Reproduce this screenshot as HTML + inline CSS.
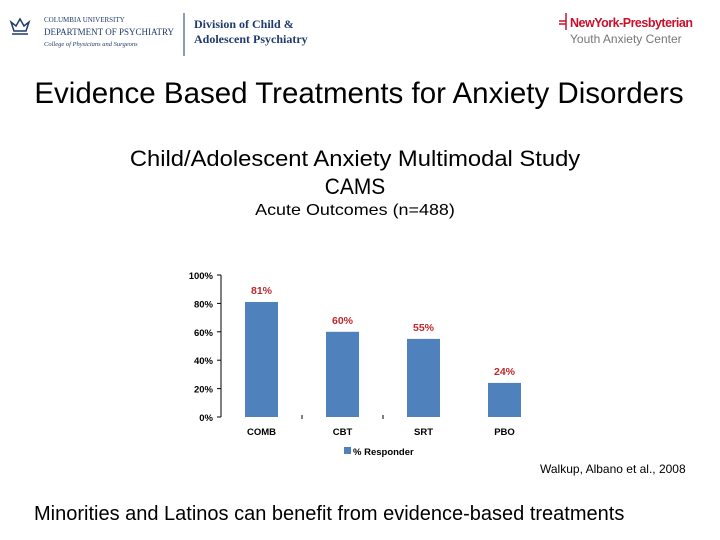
<!DOCTYPE html>
<html><head><meta charset="utf-8">
<style>
body{margin:0;background:#fff;}
#root{position:relative;width:720px;height:540px;overflow:hidden;font-family:"Liberation Sans",sans-serif;}
.t{position:absolute;white-space:nowrap;}
</style></head>
<body>
<div id="root">
<svg width="720" height="60" style="position:absolute;left:0;top:0">
  <g fill="none" stroke="#1f3a6e" stroke-width="1.5">
    <path d="M11 22 L14 31 L26 31 L29 22 L24 26 L20 19 L16 26 Z"/>
    <line x1="12" y1="34" x2="28" y2="34"/>
  </g>
  <text x="44" y="22" font-family="Liberation Serif,serif" font-size="7" fill="#1f3a6e">COLUMBIA UNIVERSITY</text>
  <text x="44" y="35" font-family="Liberation Serif,serif" font-size="9" fill="#1f3a6e">DEPARTMENT OF PSYCHIATRY</text>
  <text x="44" y="46" font-family="Liberation Serif,serif" font-size="6.5" font-style="italic" fill="#1f3a6e">College of Physicians and Surgeons</text>
  <line x1="184" y1="13" x2="184" y2="56" stroke="#1f3a6e" stroke-width="1"/>
  <text x="194" y="28" font-family="Liberation Serif,serif" font-size="12" font-weight="bold" fill="#1f3a6e">Division of Child &amp;</text>
  <text x="194" y="43" font-family="Liberation Serif,serif" font-size="12" font-weight="bold" fill="#1f3a6e">Adolescent Psychiatry</text>
  <path d="M566 13 V21 H559 M566 21 V30 M559 24 H566" stroke="#c8102e" stroke-width="1.5" fill="none"/>
  <text x="570" y="27" font-size="12.5" font-weight="bold" fill="#c8102e" letter-spacing="-0.5">NewYork-Presbyterian</text>
  <text x="570" y="43" font-size="12" fill="#777">Youth Anxiety Center</text>
</svg>
<div class="t" style="left:0;width:718px;text-align:center;top:77px;font-size:29.5px;color:#000;">Evidence Based Treatments for Anxiety Disorders</div>
<div class="t" style="left:0;width:710px;text-align:center;top:146px;font-size:22px;transform:scaleX(1.08);transform-origin:355px 0;">Child/Adolescent Anxiety Multimodal Study</div>
<div class="t" style="left:0;width:710px;text-align:center;top:174px;font-size:22px;transform:scaleX(0.95);transform-origin:355px 0;">CAMS</div>
<div class="t" style="left:0;width:710px;text-align:center;top:202px;font-size:16px;transform:scaleX(1.12);transform-origin:355px 0;">Acute Outcomes (n=488)</div>
<svg id="chart" width="720" height="540" style="position:absolute;left:0;top:0"></svg>
<div class="t" style="left:540px;top:462px;font-size:12px;">Walkup, Albano et al., 2008</div>
<div class="t" style="left:34px;top:503px;font-size:20px;">Minorities and Latinos can benefit from evidence-based treatments</div>
</div>
<script>
const categories=["COMB","CBT","SRT","PBO"];
const responderValues=[81,60,55,24];
const yTicks=[0,20,40,60,80,100];
const yTickLabels=["0%","20%","40%","60%","80%","100%"];

const NS="http://www.w3.org/2000/svg";
const svg=document.getElementById('chart');
const x0=221,bandStart=221,band=81,barW=33;
function y(v){return 417-v*1.42;}
function xc(i){return bandStart+band*(i+0.5);}
function mk(tag,attrs,parent){const e=document.createElementNS(NS,tag);for(const k in attrs)e.setAttribute(k,attrs[k]);(parent||svg).appendChild(e);return e;}

const yAxis=mk('line',{x1:x0,y1:y(100),x2:x0,y2:y(0),stroke:'#000','stroke-width':1});


yTicks.forEach((v,i)=>{
  const tk=mk('line',{x1:x0-4,y1:y(v),x2:x0,y2:y(v),stroke:'#000','stroke-width':1});
  
  
  const t=mk('text',{x:x0-8,y:y(v)+4,'text-anchor':'end','font-size':9.5,'font-weight':'bold','font-family':'Liberation Sans,sans-serif'});
  t.textContent=yTickLabels[i];
  
  
});
for(let i=1;i<categories.length-1;i++){
  const tk=mk('line',{x1:bandStart+band*i,y1:y(0)-2,x2:bandStart+band*i,y2:y(0)+2,stroke:'#000','stroke-width':1});
  
  
}
categories.forEach((c,i)=>{
  const v=responderValues[i];
  const b=mk('rect',{x:xc(i)-barW/2,y:y(v),width:barW,height:y(0)-y(v),fill:'#4f81bd'});
  
  
  const l=mk('text',{x:xc(i),y:y(v)-8,'text-anchor':'middle','font-size':10.5,'font-weight':'bold',fill:'#c0282d','font-family':'Liberation Sans,sans-serif'});
  l.textContent=v+'%';
  
  
  const cl=mk('text',{x:xc(i),y:435,'text-anchor':'middle','font-size':9.5,'font-weight':'bold','font-family':'Liberation Sans,sans-serif'});
  cl.textContent=c;
  
  
});
const lg=mk('g',{});


mk('rect',{x:344,y:447,width:7,height:7,fill:'#4f81bd'},lg);
const lt=mk('text',{x:353,y:455,'font-size':9.5,'font-weight':'bold','font-family':'Liberation Sans,sans-serif'},lg);
lt.textContent='% Responder';
</script>
</body></html>
